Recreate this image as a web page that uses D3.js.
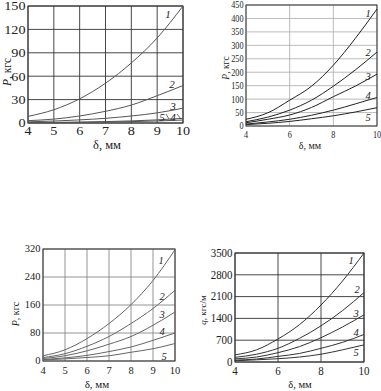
<!DOCTYPE html>
<html><head><meta charset="utf-8">
<script src="https://cdn.jsdelivr.net/npm/d3@7"></script>
<style>body{margin:0;background:#fff}svg{display:block}text{font-family:"Liberation Serif","Times New Roman",serif;fill:#222}</style>
</head><body><svg id="c" width="381" height="391"></svg>
<script>
// ---- data ----
const deltaValues = [4, 5, 6, 7, 8, 9, 10];
const curveNames = ["1", "2", "3", "4", "5"];

// panel A: P, kgf (0..150)
const pA1 = [8.5, 17, 31, 51, 77, 109, 150];
const pA2 = [3, 5, 9, 15, 23, 35, 48];
const pA3 = [1.5, 2.5, 4, 6, 9, 13, 19];
const pA4 = [0.5, 0.8, 1.2, 1.8, 2.7, 4, 6];
const pA5 = [0.3, 0.5, 0.8, 1.2, 1.8, 2.6, 3.8];
const ticksAx = [4, 5, 6, 7, 8, 9, 10];
const ticksAy = [0, 30, 60, 90, 120, 150];

// panel B: P, kgf (0..450)
const pB1 = [25, 49, 96, 148, 226, 325, 435];
const pB2 = [16, 33, 59, 96, 148, 208, 275];
const pB3 = [12, 25, 41, 69, 109, 148, 193];
const pB4 = [7, 15, 25, 40, 59, 82, 106];
const pB5 = [5, 10, 17, 27, 38, 52, 68];
const ticksBx = [4, 6, 8, 10];
const ticksBy = [0, 50, 100, 150, 200, 250, 300, 350, 400, 450];

// panel C: P, kgf (0..320)
const pC1 = [15, 32, 64, 107, 161, 230, 318];
const pC2 = [10, 21, 42, 70, 107, 150, 202];
const pC3 = [7, 15, 29, 48, 70, 102, 140];
const pC4 = [4, 9, 16, 27, 40, 59, 80];
const pC5 = [3, 6, 10, 15, 25, 35, 50];
const ticksCx = [4, 5, 6, 7, 8, 9, 10];
const ticksCy = [0, 80, 160, 240, 320];

// panel D: q, kgf/m (0..3500)
const pD1 = [230, 390, 740, 1200, 1830, 2600, 3500];
const pD2 = [150, 250, 440, 760, 1160, 1650, 2230];
const pD3 = [100, 160, 300, 495, 780, 1125, 1515];
const pD4 = [60, 95, 180, 275, 440, 630, 885];
const pD5 = [40, 70, 105, 160, 250, 390, 550];
const ticksDx = [4, 6, 8, 10];
const ticksDy = [0, 700, 1400, 2100, 2800, 3500];

// ---- layout ----
const panels = [
  {series:[pA1,pA2,pA3,pA4,pA5], tx:ticksAx, ty:ticksAy, ymax:150,
   x0:28, x1:183, y0:123, y1:6, fs:13.5, sx:1.05, grid:"#333", gridW:0.9, line:"#555",
   yfs:11.5, xfs:12.5, lfs:11,
   ylab:"P", yunit:", кгс", ytx:7, yty:72, xtx:107, xty:149, tickY:135,
   labels:[[168,18],[172,88],[173,110],[173,121],[162,121]], leaders:[[177,114,181,119],[166,114,169,119]]},
  {series:[pB1,pB2,pB3,pB4,pB5], tx:ticksBx, ty:ticksBy, ymax:450,
   x0:246, x1:377, y0:126, y1:5, fs:10.5, sx:0.78, grid:"#aaa", gridW:0.8, line:"#222",
   yfs:9.5, xfs:10, lfs:10.5,
   ylab:"P", yunit:", кгс", ytx:226, yty:68, xtx:310, xty:149, tickY:138,
   labels:[[368,17],[368,56],[368,80],[368,99],[368,121]]},
  {series:[pC1,pC2,pC3,pC4,pC5], tx:ticksCx, ty:ticksCy, ymax:320,
   x0:43, x1:175, y0:361, y1:249, fs:10.5, sx:1, grid:"#888", gridW:0.9, line:"#666",
   yfs:10, xfs:11, lfs:10.5,
   ylab:"P", yunit:", кгс", ytx:15, yty:314, xtx:97, xty:387.5, tickY:373.5,
   labels:[[161,264],[162,300],[162,318],[162,335],[164,360]]},
  {series:[pD1,pD2,pD3,pD4,pD5], tx:ticksDx, ty:ticksDy, ymax:3500,
   x0:235, x1:364, y0:362, y1:253, fs:11.5, sx:0.95, grid:"#333", gridW:0.9, line:"#333",
   yfs:9, xfs:10.5, lfs:10.5,
   ylab:"q", yunit:", кгс/м", ytx:203, yty:310, xtx:300, xty:388, tickY:375,
   labels:[[351,264],[357,293],[356,317],[356,336],[356,356]]}
];

const svg = d3.select("#c");

panels.forEach(p => {
  const x = d3.scaleLinear().domain([4, 10]).range([p.x0, p.x1]);
  const y = d3.scaleLinear().domain([0, p.ymax]).range([p.y0, p.y1]);
  const g = svg.append("g");

  // grid
  g.selectAll(".vg").data(p.tx).enter().append("line")
    .attr("x1", d => x(d)).attr("x2", d => x(d)).attr("y1", p.y0).attr("y2", p.y1)
    .attr("stroke", p.grid).attr("stroke-width", p.gridW);
  g.selectAll(".hg").data(p.ty).enter().append("line")
    .attr("x1", p.x0).attr("x2", p.x1).attr("y1", d => y(d)).attr("y2", d => y(d))
    .attr("stroke", p.grid).attr("stroke-width", p.gridW);
  // frame
  g.append("rect").attr("x", p.x0).attr("y", p.y1).attr("width", p.x1 - p.x0).attr("height", p.y0 - p.y1)
    .attr("fill", "none").attr("stroke", "#333").attr("stroke-width", 1);

  // y tick labels
  g.selectAll(".yt").data(p.ty).enter().append("text")
    .attr("transform", d => `translate(${p.x0 - 2.5},${y(d) + p.fs * 0.33}) scale(${p.sx},1)`)
    .attr("text-anchor", "end").attr("font-size", p.fs).text(d => d);
  // x tick labels
  g.selectAll(".xt").data(p.tx).enter().append("text")
    .attr("transform", d => `translate(${x(d)},${p.tickY}) scale(${p.sx},1)`)
    .attr("text-anchor", "middle").attr("font-size", p.fs).text(d => d);

  // axis titles
  const yt = g.append("text").attr("transform", `translate(${p.ytx},${p.yty}) rotate(-90)`)
    .attr("text-anchor", "middle").attr("font-size", p.yfs).attr("dy", "0.35em");
  yt.append("tspan").attr("font-style", "italic").text(p.ylab);
  yt.append("tspan").text(p.yunit);
  g.append("text").attr("x", p.xtx).attr("y", p.xty).attr("text-anchor", "middle")
    .attr("font-size", p.xfs).text("δ, мм");

  // curves
  const line = d3.line().x((d, i) => x(deltaValues[i])).y(d => y(d)).curve(d3.curveMonotoneX);
  p.series.forEach(s => {
    g.append("path").attr("d", line(s)).attr("fill", "none")
      .attr("stroke", p.line).attr("stroke-width", 1);
  });

  // curve labels
  p.labels.forEach((l, i) => {
    g.append("text").attr("x", l[0]).attr("y", l[1]).attr("font-size", p.lfs)
      .attr("font-style", "italic").attr("text-anchor", "middle").text(curveNames[i]);
  });
  (p.leaders || []).forEach(a => {
    g.append("line").attr("x1", a[0]).attr("y1", a[1]).attr("x2", a[2]).attr("y2", a[3])
      .attr("stroke", "#444").attr("stroke-width", 0.8);
  });
});
</script></body></html>
